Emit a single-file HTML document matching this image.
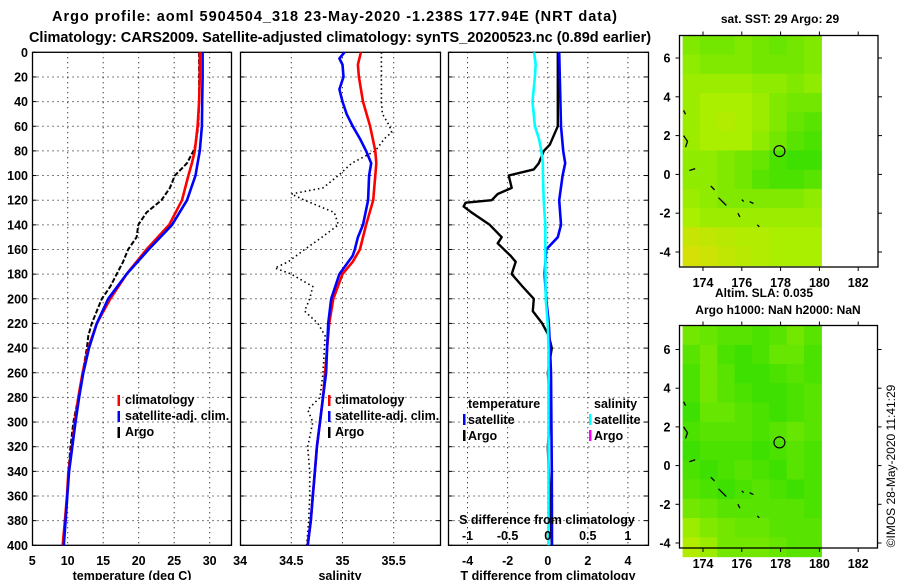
<!DOCTYPE html>
<html><head><meta charset="utf-8">
<style>
html,body{margin:0;padding:0;background:#fff;}
svg{display:block;font-family:"Liberation Sans",Arial,sans-serif;font-weight:bold;}
</style></head>
<body>
<svg id="chart" width="900" height="580" viewBox="0 0 900 580" xmlns="http://www.w3.org/2000/svg">
<text x="52" y="21" font-size="14.5" text-anchor="start" textLength="565" lengthAdjust="spacing">Argo profile: aoml 5904504_318 23-May-2020 -1.238S 177.94E (NRT data)</text>
<text x="340" y="42" font-size="14.5" text-anchor="middle">Climatology: CARS2009. Satellite-adjusted climatology: synTS_20200523.nc (0.89d earlier)</text>
<g id="g"></g>
</svg>
<script>
// ---------- data ----------
const depths = [0,20,40,60,80,90,100,120,140,160,180,200,220,240,260,280,300,320,340,360,380,400];
const tempClim = [28.6,28.6,28.5,28.3,27.9,27.5,27.0,26.1,24.3,21.1,18.3,16.0,14.1,12.9,12.1,11.5,11.0,10.6,10.1,9.9,9.6,9.3];
const tempSat = [29.0,29.0,28.95,28.9,28.6,28.3,28.0,26.8,24.7,21.4,18.3,15.7,14.1,13.0,12.2,11.6,11.1,10.65,10.2,9.95,9.7,9.45];
const argoDepths = [0,20,40,60,75,80,90,100,110,120,130,140,150,160,170,180,190,200,210,220,230,240,260,280,300,320,340,360,380,400];
const tempArgo = [28.5,28.5,28.5,28.4,28.0,27.7,26.8,25.1,24.4,23.2,21.1,19.95,19.7,18.5,17.8,16.9,16.0,14.8,14.1,13.4,12.9,12.7,12.1,11.5,10.8,10.4,10.1,9.9,9.6,9.4];
const salDepths = [0,10,20,40,60,80,90,100,120,140,160,170,180,200,220,240,260,280,300,320,340,360,380,400];
const salClim = [35.18,35.15,35.16,35.20,35.27,35.32,35.33,35.32,35.30,35.23,35.17,35.10,35.0,34.91,34.87,34.85,34.83,34.81,34.78,34.75,34.73,34.71,34.69,34.66];
const salSatDepths = [0,5,10,20,30,40,50,60,70,80,90,100,120,140,150,160,165,180,200,220,240,260,280,300,320,340,360,380,400];
const salSat = [35.02,34.97,35.0,35.01,34.97,35.0,35.04,35.10,35.17,35.23,35.28,35.26,35.25,35.20,35.15,35.12,35.10,34.97,34.89,34.86,34.85,34.84,34.81,34.78,34.75,34.73,34.71,34.69,34.66];
const salArgoDepths = [0,20,40,50,60,65,70,80,90,100,110,115,120,130,140,150,160,170,175,180,190,200,210,220,230,260,280,290,300,320,340,360,380,400];
const salArgo = [35.38,35.38,35.38,35.39,35.46,35.48,35.41,35.32,35.09,34.96,34.81,34.50,34.63,34.92,34.96,34.80,34.63,34.47,34.34,34.50,34.71,34.68,34.63,34.76,34.83,34.81,34.78,34.66,34.71,34.66,34.68,34.68,34.67,34.65];
const tdiffDepths = [0,60,80,90,100,120,140,150,160,180,200,220,240,260,300,340,400];
const tdiffSat = [0.57,0.66,0.77,0.87,0.74,0.57,0.66,0.5,-0.08,-0.16,-0.08,0.05,0.11,0.16,0.18,0.2,0.21];
const sdiffDepths = [0,10,20,40,60,70,80,90,100,120,140,160,200,220,240,300,400];
const sdiffSat = [-0.17,-0.15,-0.16,-0.19,-0.16,-0.11,-0.08,-0.06,-0.06,-0.05,-0.03,-0.03,-0.025,0,0.01,0.01,0.01];
const tdiffArgoDepths = [0,60,75,80,90,95,100,110,115,120,122,125,130,140,150,155,165,170,180,190,200,210,220,230,240,260,280,300,320,340,360,380,400];
const tdiffArgo = [0.5,0.5,0.1,-0.2,-0.45,-0.7,-1.95,-1.8,-2.5,-2.8,-4.1,-4.2,-3.8,-2.9,-2.3,-2.5,-1.86,-1.6,-1.8,-1.26,-0.7,-0.75,-0.28,0.05,0.2,0.0,0.1,0.1,0.0,0.05,0.1,0.15,0.2];
const depthTicks = [0,20,40,60,80,100,120,140,160,180,200,220,240,260,280,300,320,340,360,380,400];
const tempTicks = [5,10,15,20,25,30];
const salTicks = [34,34.5,35,35.5];
const tdTicks = [-4,-2,0,2,4];
const sdTicks = [-1,-0.5,0,0.5,1];
const lonTicks = [174,176,178,180,182];
const latTicks = [6,4,2,0,-2,-4];
const sstField = [
[0.35,0.3,0.3,0.35,0.3,0.25,0.3,0.35],
[0.4,0.35,0.35,0.35,0.3,0.3,0.3,0.35],
[0.45,0.45,0.45,0.45,0.4,0.4,0.35,0.4],
[0.45,0.5,0.5,0.5,0.45,0.35,0.3,0.3],
[0.45,0.5,0.55,0.5,0.45,0.35,0.25,0.2],
[0.45,0.5,0.5,0.5,0.4,0.3,0.2,0.15],
[0.4,0.4,0.35,0.3,0.25,0.15,0.1,0.1],
[0.4,0.4,0.35,0.3,0.2,0.15,0.15,0.2],
[0.45,0.4,0.35,0.35,0.35,0.35,0.35,0.4],
[0.5,0.45,0.45,0.45,0.45,0.45,0.45,0.45],
[0.7,0.65,0.6,0.55,0.55,0.5,0.5,0.5],
[0.8,0.75,0.65,0.6,0.55,0.5,0.5,0.5]];
const slaField = [
[0.3,0.25,0.2,0.2,0.15,0.2,0.3,0.2],
[0.2,0.3,0.15,0.1,0.15,0.25,0.25,0.15],
[0.15,0.3,0.2,0.1,0.1,0.15,0.2,0.15],
[0.15,0.3,0.2,0.15,0.1,0.1,0.15,0.2],
[0.1,0.25,0.25,0.2,0.15,0.1,0.15,0.2],
[0.15,0.2,0.2,0.2,0.15,0.2,0.25,0.2],
[0.1,0.15,0.15,0.15,0.1,0.15,0.2,0.15],
[0.15,0.1,0.15,0.2,0.15,0.1,0.2,0.15],
[0.2,0.15,0.1,0.15,0.2,0.15,0.1,0.15],
[0.3,0.25,0.2,0.2,0.2,0.2,0.2,0.15],
[0.45,0.35,0.3,0.25,0.25,0.2,0.2,0.2],
[0.55,0.45,0.3,0.3,0.3,0.25,0.2,0.2]];
const argoLon = [177.94];
const argoLat = [1.2];

// ---------- helpers ----------
const NS='http://www.w3.org/2000/svg';
const G=document.getElementById('g');
function mk(tag,attrs,name){
  const el=document.createElementNS(NS,tag);
  for(const k in attrs) el.setAttribute(k,attrs[k]);
  
  
  G.appendChild(el);
  return el;
}
function txt(x,y,s,size,anchor,name){
  const t=mk('text',{x:x,y:y,'font-size':size,'text-anchor':anchor||'middle'},name);
  t.textContent=s; return t;
}
const TOP=52.3, BOT=545.3;
const yD=d=>TOP+d*(BOT-TOP)/400;
const xT=t=>32.2+(t-5)*7.1;
const xS=s=>240.1+(s-34)*102.4;
const xTd=v=>547.8+v*20.05;
const xSd=v=>547.7+v*80.2;

function panel(x0,x1,xt,ticks,labels,name){
  depthTicks.forEach(d=>{ if(d>0&&d<400) mk('line',{x1:x0,x2:x1,y1:yD(d),y2:yD(d),stroke:'#000','stroke-width':1,'stroke-dasharray':'1,4'},name+'-hgrid'); });
  ticks.forEach(v=>{ const x=xt(v); if(x>x0+2&&x<x1-2) mk('line',{x1:x,x2:x,y1:TOP,y2:BOT,stroke:'#000','stroke-width':1,'stroke-dasharray':'1,4'},name+'-vgrid'); });
  depthTicks.forEach(d=>{ mk('line',{x1:x0,x2:x0+4,y1:yD(d),y2:yD(d),stroke:'#000'},name+'-ytick'); mk('line',{x1:x1-4,x2:x1,y1:yD(d),y2:yD(d),stroke:'#000'},name+'-ytick'); });
  mk('rect',{x:x0,y:TOP,width:x1-x0,height:BOT-TOP,fill:'none',stroke:'#000','stroke-width':1.3},name+'-frame');
  if(labels) ticks.forEach(v=>txt(xt(v),565,String(v),12.5,'middle',name+'-xtick-label'));
}
function line(ds,vs,xf,color,w,dash,name){
  const pts=ds.map((d,i)=>xf(vs[i]).toFixed(1)+','+yD(d).toFixed(1)).join(' ');
  const a={points:pts,fill:'none',stroke:color,'stroke-width':w,'stroke-linejoin':'round'};
  if(dash) a['stroke-dasharray']=dash;
  return mk('polyline',a,name);
}

// ---------- panel 1 ----------
panel(32.5,231.5,xT,tempTicks,true,'temperature-panel');
depthTicks.forEach(d=>txt(28,yD(d)+4.5,String(d),12.5,'end','depth-tick-label'));
line(argoDepths,tempArgo,xT,'#000',2,'5,2','temp-argo-line');
line(depths,tempClim,xT,'#f00',2.6,null,'temp-climatology-line');
line(depths,tempSat,xT,'#00f',2.6,null,'temp-satellite-line');
txt(132,580,'temperature (deg C)',12.5,'middle','temperature-axis-title');
[['#f00','climatology',404],['#00f','satellite-adj. clim.',420],['#000','Argo',436]].forEach(l=>{
  mk('rect',{x:117.5,y:l[2]-9,width:2.5,height:11,fill:l[0]},'temp-legend-marker');
  txt(125,l[2],l[1],12.5,'start','temp-legend-label');
});

// ---------- panel 2 ----------
panel(240.5,440.5,xS,salTicks,true,'salinity-panel');
line(salArgoDepths,salArgo,xS,'#000',1.6,'1.5,3','salinity-argo-line');
line(salDepths,salClim,xS,'#f00',2.6,null,'salinity-climatology-line');
line(salSatDepths,salSat,xS,'#00f',2.6,null,'salinity-satellite-line');
txt(340,580,'salinity',12.5,'middle','salinity-axis-title');
[['#f00','climatology',404],['#00f','satellite-adj. clim.',420],['#000','Argo',436]].forEach(l=>{
  mk('rect',{x:328,y:l[2]-9,width:2.5,height:11,fill:l[0]},'sal-legend-marker');
  txt(335,l[2],l[1],12.5,'start','sal-legend-label');
});

// ---------- panel 3 ----------
panel(448.5,648.5,xSd,sdTicks,false,'difference-panel');
tdTicks.forEach(v=>txt(xTd(v),565,String(v),12.5,'middle','tdiff-tick-label'));
line(tdiffArgoDepths,tdiffArgo,xTd,'#000',2.4,null,'tdiff-argo-line');
line(tdiffDepths,tdiffSat,xTd,'#00f',2.6,null,'tdiff-satellite-line');
line(sdiffDepths,sdiffSat,xSd,'#0ff',2.6,null,'sdiff-satellite-line');
txt(548,580,'T difference from climatology',12.5,'middle','tdiff-axis-title');
txt(547,524,'S difference from climatology',12.5,'middle','sdiff-axis-title');
sdTicks.forEach(v=>txt(xSd(v),540,String(v),12.5,'middle','sdiff-tick-label'));
txt(468,408,'temperature',12.5,'start','diff-legend-temperature');
txt(594,408,'salinity',12.5,'start','diff-legend-salinity');
[['#00f',463,'satellite',424],['#000',463,'Argo',440],['#0ff',589,'satellite',424],['#f0f',589,'Argo',440]].forEach(l=>{
  mk('rect',{x:l[1],y:l[3]-10,width:2.5,height:11,fill:l[0]},'diff-legend-marker');
  txt(l[1]+5,l[3],l[2],12.5,'start','diff-legend-label');
});

// ---------- maps ----------
function cmap(v){
  let r,g,b;
  if(v<0.5){const t=v/0.5; r=34+t*(170-34); g=221+t*(238-221); b=0;}
  else {const t=(v-0.5)/0.5; r=170+t*(240-170); g=238+t*(215-238); b=t*10;}
  return 'rgb('+Math.round(r)+','+Math.round(g)+','+Math.round(b)+')';
}
function map(box,lat6y,latm4y,field,name){
  const [x0,y0,x1,y1]=box;
  const xL=lo=>703+(lo-174)*19.4;
  const yL=la=>lat6y+(6-la)*(latm4y-lat6y)/10;
  const lonA=172.95, lonB=180.1, latA=7.3, latB=-4.7;
  const rows=field.length, cols=field[0].length;
  const cw=(xL(lonB)-xL(lonA))/cols;
  const top=Math.max(y0,yL(latA)), bot=yL(latB);
  const ch=(bot-top)/rows;
  field.forEach((row,r)=>row.forEach((v,c)=>{
    mk('rect',{x:(xL(lonA)+c*cw).toFixed(1),y:(top+r*ch).toFixed(1),width:(cw+0.6).toFixed(1),height:(ch+0.6).toFixed(1),fill:cmap(v)},name+'-cell');
  }));
  [[[173,2.0],[173.2,1.7],[173.1,1.4]],[[173.3,0.2],[173.6,0.3]],[[174.4,-0.6],[174.6,-0.8]],[[174.8,-1.2],[175.2,-1.6]],[[176,-1.3],[176.1,-1.4]],[[176.4,-1.4],[176.6,-1.5]],[[175.8,-2.0],[175.9,-2.2]],[[176.8,-2.6],[176.9,-2.7]],[[173,3.3],[173.1,3.1]]].forEach(p=>{
    mk('polyline',{points:p.map(q=>xL(q[0]).toFixed(1)+','+yL(q[1]).toFixed(1)).join(' '),fill:'none',stroke:'#000','stroke-width':1.3},name+'-coastline');
  });
  mk('circle',{cx:xL(argoLon[0]),cy:yL(argoLat[0]),r:5.5,fill:'none',stroke:'#000','stroke-width':1.2},name+'-argo-location');
  mk('rect',{x:x0,y:y0,width:x1-x0,height:y1-y0,fill:'none',stroke:'#000','stroke-width':1.3},name+'-frame');
  lonTicks.forEach(lo=>{ mk('line',{x1:xL(lo),x2:xL(lo),y1:y0,y2:y0-4,stroke:'#000'},name+'-xtick'); mk('line',{x1:xL(lo),x2:xL(lo),y1:y1,y2:y1+4,stroke:'#000'},name+'-xtick'); txt(xL(lo),y1+20,String(lo),12.5,'middle',name+'-lon-label'); });
  latTicks.forEach(la=>{ mk('line',{x1:x0,x2:x0-4,y1:yL(la),y2:yL(la),stroke:'#000'},name+'-ytick'); mk('line',{x1:x1,x2:x1+4,y1:yL(la),y2:yL(la),stroke:'#000'},name+'-ytick'); txt(x0-9,yL(la)+4.5,String(la),12.5,'end',name+'-lat-label'); });
}
map([679.5,35.5,878,267],58,252,sstField,'sst-map');
map([679.5,325.5,877.5,548],349.5,543,slaField,'sla-map');
txt(780,23,'sat. SST: 29 Argo: 29',12,'middle','sst-map-title');
txt(764,297,'Altim. SLA: 0.035',12,'middle','sla-map-title');
txt(778,314,'Argo h1000: NaN h2000: NaN',12,'middle','sla-map-subtitle');
const c=txt(0,0,'\u00A9IMOS 28-May-2020 11:41:29',12,'middle','imos-credit');
c.setAttribute('font-weight','normal');
c.setAttribute('transform','translate(895,466) rotate(-90)');
</script>
</body></html>
